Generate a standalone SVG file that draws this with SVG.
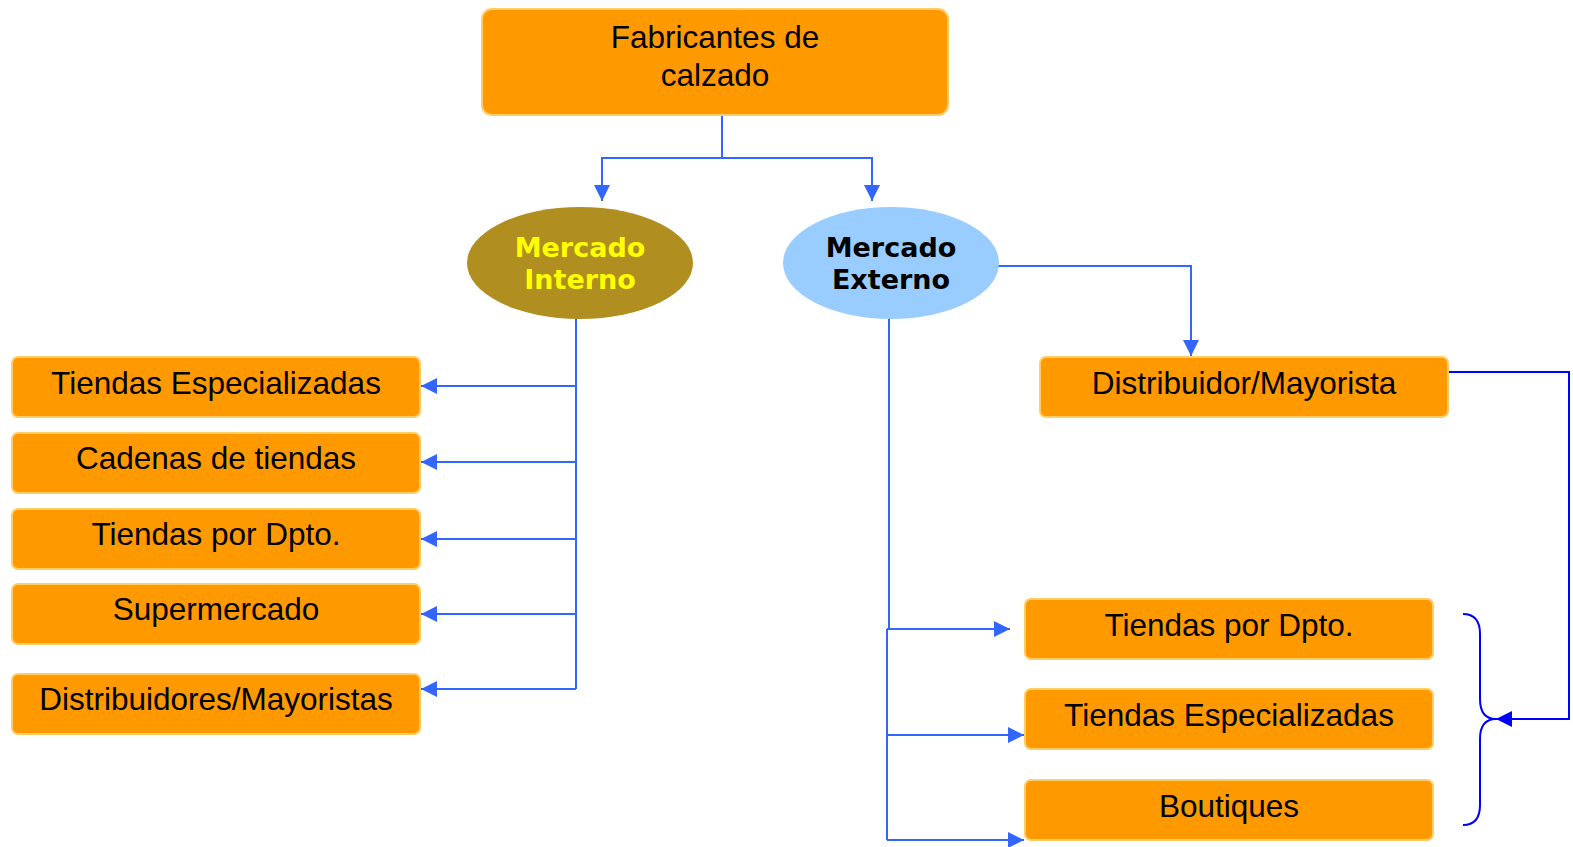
<svg xmlns="http://www.w3.org/2000/svg" width="1573" height="847" viewBox="0 0 1573 847">
<defs>
<style>
.box{fill:#FF9900;stroke:#FFCC66;stroke-width:2}
.t{font-family:"Liberation Sans",Arial,sans-serif;font-size:31.5px;fill:#000;text-anchor:middle}
.e{font-family:"DejaVu Sans",Verdana,sans-serif;font-weight:bold;font-size:27px;text-anchor:middle}
.c{fill:none;stroke:#3366FF;stroke-width:2}
.d{fill:none;stroke:#0000FF;stroke-width:2}
</style>
<marker id="ah" viewBox="0 0 10 10" refX="10" refY="5" markerWidth="8" markerHeight="8" markerUnits="strokeWidth" orient="auto"><path d="M0,0 L10,5 L0,10 z" fill="#3366FF"/></marker>
<marker id="ad" viewBox="0 0 10 10" refX="10" refY="5" markerWidth="8" markerHeight="8" markerUnits="strokeWidth" orient="auto"><path d="M0,0 L10,5 L0,10 z" fill="#0000FF"/></marker>
</defs>
<rect width="1573" height="847" fill="#fff"/>
<g id="connectors">
<path class="c" d="M722,115 V158 H602 V201" marker-end="url(#ah)"/>
<path class="c" d="M722,158 H872 V201" marker-end="url(#ah)"/>
<path class="c" d="M572,311 H576 V689"/>
<path class="c" d="M576,386 H421" marker-end="url(#ah)"/>
<path class="c" d="M576,462 H421" marker-end="url(#ah)"/>
<path class="c" d="M576,539 H421" marker-end="url(#ah)"/>
<path class="c" d="M576,614 H421" marker-end="url(#ah)"/>
<path class="c" d="M576,689 H421" marker-end="url(#ah)"/>
<path class="c" d="M994,266 H1191 V356" marker-end="url(#ah)"/>
<path class="c" d="M889,311 V629"/>
<path class="c" d="M887,629 V840"/>
<path class="c" d="M887,629 H1010" marker-end="url(#ah)"/>
<path class="c" d="M887,735 H1024" marker-end="url(#ah)"/>
<path class="c" d="M887,840 H1024" marker-end="url(#ah)"/>
<path class="d" d="M1449,372 H1569 V719 H1496" marker-end="url(#ad)"/>
<path class="d" d="M1463,614 Q1480,614 1480,634 V699 Q1480,719 1496,719 Q1480,719 1480,739 V805 Q1480,825 1463,825"/>
</g>
<g id="fabricantes">
<rect class="box" x="482" y="9" width="466" height="106" rx="10"/>
<text class="t" x="715" y="48">Fabricantes de</text>
<text class="t" x="715" y="86">calzado</text>
</g>
<g id="mercado-interno">
<ellipse cx="580" cy="263" rx="113" ry="56" fill="#B08E1F"/>
<text class="e" x="580" y="257" fill="#FFFF00">Mercado</text>
<text class="e" x="580" y="289" fill="#FFFF00">Interno</text>
</g>
<g id="mercado-externo">
<ellipse cx="891" cy="263" rx="108" ry="56" fill="#99CCFF"/>
<text class="e" x="891" y="257" fill="#000">Mercado</text>
<text class="e" x="891" y="289" fill="#000">Externo</text>
</g>
<g id="int-especializadas">
<rect class="box" x="12" y="357" width="408" height="60" rx="6"/>
<text class="t" x="216" y="394">Tiendas Especializadas</text>
</g>
<g id="int-cadenas">
<rect class="box" x="12" y="433" width="408" height="60" rx="6"/>
<text class="t" x="216" y="469">Cadenas de tiendas</text>
</g>
<g id="int-dpto">
<rect class="box" x="12" y="509" width="408" height="60" rx="6"/>
<text class="t" x="216" y="545">Tiendas por Dpto.</text>
</g>
<g id="int-supermercado">
<rect class="box" x="12" y="584" width="408" height="60" rx="6"/>
<text class="t" x="216" y="620">Supermercado</text>
</g>
<g id="int-distribuidores">
<rect class="box" x="12" y="674" width="408" height="60" rx="6"/>
<text class="t" x="216" y="710">Distribuidores/Mayoristas</text>
</g>
<g id="ext-distribuidor">
<rect class="box" x="1040" y="357" width="408" height="60" rx="6"/>
<text class="t" x="1244" y="394">Distribuidor/Mayorista</text>
</g>
<g id="ext-dpto">
<rect class="box" x="1025" y="599" width="408" height="60" rx="6"/>
<text class="t" x="1229" y="636">Tiendas por Dpto.</text>
</g>
<g id="ext-especializadas">
<rect class="box" x="1025" y="689" width="408" height="60" rx="6"/>
<text class="t" x="1229" y="726">Tiendas Especializadas</text>
</g>
<g id="ext-boutiques">
<rect class="box" x="1025" y="780" width="408" height="60" rx="6"/>
<text class="t" x="1229" y="817">Boutiques</text>
</g>
</svg>
